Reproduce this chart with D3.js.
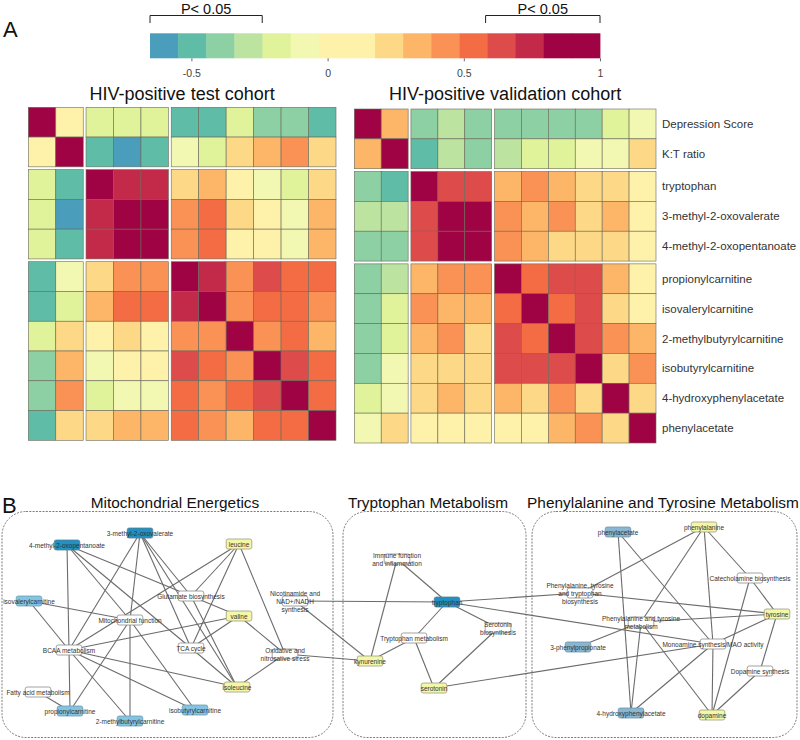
<!DOCTYPE html>
<html>
<head>
<meta charset="utf-8">
<script src="https://cdn.jsdelivr.net/npm/d3@7"></script>
<style>
  body { margin: 0; background: #fff; }
  svg { font-family: "Liberation Sans", Arial, sans-serif; }
</style>
</head>
<body>
<div class="container"></div>
<script>
// ---- data ----
const metabolites = [
  'Depression Score', 'K:T ratio', 'tryptophan', '3-methyl-2-oxovalerate', '4-methyl-2-oxopentanoate',
  'propionylcarnitine', 'isovalerylcarnitine', '2-methylbutyrylcarnitine', 'isobutyrylcarnitine',
  '4-hydroxyphenylacetate', 'phenylacetate'
];
const groupStarts = [2, 5];

const testCorr = [
  [1, 0.10, -0.19, -0.19, -0.19, -0.50, -0.50, -0.19, -0.39, -0.39, -0.50],
  [0.10, 1, -0.50, -0.60, -0.50, -0.08, -0.19, 0.23, 0.33, 0.43, 0.23],
  [-0.19, -0.50, 1, 0.75, 0.75, 0.23, 0.33, 0.10, -0.08, -0.19, 0.23],
  [-0.19, -0.60, 0.75, 1, 0.88, 0.43, 0.54, 0.23, 0.10, -0.08, 0.33],
  [-0.19, -0.50, 0.75, 0.88, 1, 0.43, 0.54, 0.10, 0.10, -0.08, 0.33],
  [-0.50, -0.08, 0.23, 0.43, 0.43, 1, 0.75, 0.43, 0.64, 0.54, 0.54],
  [-0.50, -0.19, 0.33, 0.54, 0.54, 0.75, 1, 0.43, 0.54, 0.54, 0.43],
  [-0.19, 0.23, 0.10, 0.23, 0.10, 0.43, 0.43, 1, 0.43, 0.54, 0.33],
  [-0.39, 0.33, -0.08, 0.10, 0.10, 0.64, 0.54, 0.43, 1, 0.64, 0.54],
  [-0.39, 0.43, -0.19, -0.08, -0.08, 0.54, 0.43, 0.54, 0.64, 1, 0.54],
  [-0.50, 0.23, 0.23, 0.33, 0.33, 0.54, 0.43, 0.33, 0.54, 0.54, 1]
];

const validationCorr = [
  [1, 0.33, -0.39, -0.29, -0.39, -0.39, -0.39, -0.39, -0.39, -0.19, -0.08],
  [0.33, 1, -0.50, -0.29, -0.39, -0.29, -0.19, -0.19, -0.08, -0.08, 0.23],
  [-0.39, -0.50, 1, 0.64, 0.64, 0.33, 0.43, 0.33, 0.23, 0.23, 0.10],
  [-0.29, -0.29, 0.64, 1, 0.88, 0.43, 0.33, 0.43, 0.23, 0.33, 0.10],
  [-0.39, -0.39, 0.64, 0.88, 1, 0.43, 0.33, 0.23, 0.23, 0.23, 0.10],
  [-0.39, -0.29, 0.33, 0.43, 0.43, 1, 0.54, 0.64, 0.64, 0.33, 0.10],
  [-0.39, -0.19, 0.43, 0.33, 0.33, 0.54, 1, 0.54, 0.64, 0.23, 0.10],
  [-0.39, -0.19, 0.33, 0.43, 0.23, 0.64, 0.54, 1, 0.64, 0.43, 0.33],
  [-0.39, -0.08, 0.23, 0.23, 0.23, 0.64, 0.64, 0.64, 1, 0.23, 0.43],
  [-0.19, -0.08, 0.23, 0.33, 0.23, 0.33, 0.23, 0.43, 0.23, 1, 0.23],
  [-0.08, 0.23, 0.10, 0.10, 0.10, 0.10, 0.10, 0.33, 0.43, 0.23, 1]
];

const legendDomain = [-0.652, 1];
const legendTicks = [-0.5, 0, 0.5, 1];
const pRanges = [[-0.652, -0.24], [0.58, 1]];
const binColors = [
  '#4a9dbb', '#5fbca6', '#8dd0a4', '#bce3a0', '#e0f29a', '#f2f8b1', '#fef1a9', '#fef1a9',
  '#fdd886', '#fdb567', '#f99254', '#f46c43', '#de4b4b', '#c32a4a', '#a00343', '#a00343'
];

const panelTitles = ['Mitochondrial Energetics', 'Tryptophan Metabolism', 'Phenylalanine and Tyrosine Metabolism'];

const netNodes = [
  { id: 'm3mov', label: ['3-methyl-2-oxovalerate'], kind: 'down' },
  { id: 'm4mop', label: ['4-methyl-2-oxopentanoate'], kind: 'down' },
  { id: 'leu', label: ['leucine'], kind: 'up' },
  { id: 'isoval', label: ['isovalerylcarnitine'], kind: 'carn' },
  { id: 'glut', label: ['Glutamate biosynthesis'], kind: 'path' },
  { id: 'val', label: ['valine'], kind: 'up' },
  { id: 'mitofn', label: ['Mitochondrial function'], kind: 'path' },
  { id: 'bcaa', label: ['BCAA metabolism'], kind: 'path' },
  { id: 'tca', label: ['TCA cycle'], kind: 'path' },
  { id: 'oxid', label: ['Oxidative and', 'nitrosative stress'], kind: 'path' },
  { id: 'nicot', label: ['Nicotinamide and', 'NAD+/NADH', 'synthesis'], kind: 'path' },
  { id: 'fatty', label: ['Fatty acid metabolism'], kind: 'path' },
  { id: 'ile', label: ['isoleucine'], kind: 'up' },
  { id: 'prop', label: ['propionylcarnitine'], kind: 'carn' },
  { id: 'mb2', label: ['2-methylbutyrylcarnitine'], kind: 'carn' },
  { id: 'isobut', label: ['isobutyrylcarnitine'], kind: 'carn' },
  { id: 'immune', label: ['Immune function', 'and inflammation'], kind: 'path' },
  { id: 'trp', label: ['tryptophan'], kind: 'down' },
  { id: 'serbio', label: ['Serotonin', 'biosynthesis'], kind: 'path' },
  { id: 'trpmet', label: ['Tryptophan metabolism'], kind: 'path' },
  { id: 'kyn', label: ['kynurenine'], kind: 'up' },
  { id: 'sero', label: ['serotonin'], kind: 'up' },
  { id: 'phac', label: ['phenylacetate'], kind: 'phen' },
  { id: 'phe', label: ['phenylalanine'], kind: 'up' },
  { id: 'catech', label: ['Catecholamine biosynthesis'], kind: 'path' },
  { id: 'pttb', label: ['Phenylalanine, tyrosine', 'and tryptophan', 'biosynthesis'], kind: 'path' },
  { id: 'tyr', label: ['tyrosine'], kind: 'up' },
  { id: 'ptm', label: ['Phenylalanine and tyrosine', 'metabolism'], kind: 'path' },
  { id: 'php', label: ['3-phenylpropionate'], kind: 'phen' },
  { id: 'mao', label: ['Monoamine synthesis/MAO activity'], kind: 'path' },
  { id: 'dasyn', label: ['Dopamine synthesis'], kind: 'path' },
  { id: 'hpa', label: ['4-hydroxyphenylacetate'], kind: 'phen' },
  { id: 'dopa', label: ['dopamine'], kind: 'up' }
];

// layout coordinates of the network (same units as the page)
const nodeLayout = {
  m3mov: [140, 533], m4mop: [67, 545], leu: [239, 544], isoval: [29, 601], glut: [191, 596],
  val: [239, 616], mitofn: [130, 620], bcaa: [69, 650], tca: [191, 648], oxid: [285, 654],
  nicot: [295, 601], fatty: [38, 692], ile: [237, 687], prop: [70, 711], mb2: [130, 721],
  isobut: [195, 710], immune: [397, 559], trp: [447, 602], serbio: [498, 628], trpmet: [414, 638],
  kyn: [370, 661], sero: [434, 688], phac: [618, 532], phe: [704, 527], catech: [750, 578],
  pttb: [580, 593], tyr: [777, 614], ptm: [641, 622], php: [578, 647], mao: [713, 644],
  dasyn: [760, 671], hpa: [631, 713], dopa: [712, 715]
};

const netEdges = [
  ['m3mov', 'bcaa'], ['m3mov', 'mitofn'], ['m3mov', 'glut'], ['m3mov', 'tca'], ['m3mov', 'ile'],
  ['m4mop', 'bcaa'], ['m4mop', 'mitofn'], ['m4mop', 'glut'], ['m4mop', 'tca'],
  ['isoval', 'bcaa'], ['isoval', 'mitofn'],
  ['leu', 'bcaa'], ['leu', 'glut'], ['leu', 'tca'], ['leu', 'oxid'],
  ['val', 'bcaa'], ['val', 'glut'], ['val', 'tca'], ['val', 'oxid'],
  ['mitofn', 'prop'], ['mitofn', 'mb2'], ['mitofn', 'isobut'],
  ['bcaa', 'prop'], ['bcaa', 'mb2'], ['bcaa', 'isobut'], ['bcaa', 'ile'],
  ['tca', 'ile'], ['glut', 'ile'], ['oxid', 'ile'], ['fatty', 'prop'],
  ['nicot', 'trp'], ['nicot', 'kyn'], ['oxid', 'kyn'],
  ['immune', 'trp'], ['immune', 'kyn'], ['trp', 'trpmet'], ['trpmet', 'kyn'], ['trpmet', 'sero'],
  ['trp', 'serbio'], ['serbio', 'sero'], ['trp', 'pttb'], ['trp', 'mao'], ['sero', 'mao'],
  ['phac', 'hpa'], ['phac', 'mao'], ['phe', 'pttb'], ['phe', 'ptm'], ['phe', 'mao'], ['phe', 'catech'],
  ['catech', 'tyr'], ['catech', 'dopa'], ['tyr', 'pttb'], ['tyr', 'ptm'], ['tyr', 'mao'], ['tyr', 'dasyn'],
  ['mao', 'dopa'], ['mao', 'hpa'], ['ptm', 'php'], ['ptm', 'hpa'], ['ptm', 'dopa'], ['dasyn', 'dopa']
];

const kindFill = { path: '#ffffff', up: '#f3f7a8', down: '#2190c2', carn: '#82c4e2', phen: '#89b6d0' };
const kindStroke = { path: '#8c8c8c', up: '#9c9c80', down: '#5a7f95', carn: '#6f9cb4', phen: '#6f94aa' };

// ---- chart ----
const renderChart = () => {
  const width = 800;
  const height = 740;
  const svg = d3.select('.container').append('svg').attr('width', width).attr('height', height);

  const color = d3.scaleQuantize().domain(legendDomain).range(binColors);

  // colour key
  const legendX = d3.scaleLinear().domain(legendDomain).range([150, 600]);
  const legendY = 33.3;
  const legendH = 25;
  const legend = svg.append('g').attr('class', 'legend');
  const bounds = [legendDomain[0], ...color.thresholds(), legendDomain[1]];
  legend
    .selectAll('rect')
    .data(binColors)
    .enter()
    .append('rect')
    .attr('x', (c, i) => legendX(bounds[i]))
    .attr('y', legendY)
    .attr('width', (c, i) => legendX(bounds[i + 1]) - legendX(bounds[i]) + 0.4)
    .attr('height', legendH)
    .attr('fill', c => c);

  const legendAxis = d3
    .axisBottom(legendX)
    .tickValues(legendTicks)
    .tickSize(3)
    .tickPadding(8)
    .tickFormat(d => String(d));
  const axisG = legend.append('g').attr('transform', `translate(0,${legendY + legendH})`).call(legendAxis);
  axisG.select('.domain').remove();
  axisG.selectAll('line').attr('stroke', '#666');
  axisG.selectAll('text').attr('font-size', 10.5).attr('fill', '#444').attr('font-family', '"Liberation Sans", Arial, sans-serif');

  // significance brackets
  const brackets = legend.append('g').attr('class', 'brackets');
  pRanges.forEach(r => {
    const x1 = legendX(r[0]);
    const x2 = legendX(r[1]);
    brackets
      .append('path')
      .attr('d', `M${x1},23V15.5H${x2}V23`)
      .attr('fill', 'none')
      .attr('stroke', '#222')
      .attr('stroke-width', 1);
    brackets
      .append('text')
      .attr('x', (x1 + x2) / 2)
      .attr('y', 13.5)
      .attr('text-anchor', 'middle')
      .attr('font-size', 14.5)
      .attr('fill', '#111')
      .text('P< 0.05');
  });

  svg.append('text').attr('x', 3).attr('y', 37).attr('font-size', 22).attr('fill', '#111').text('A');
  svg.append('text').attr('x', 2).attr('y', 513).attr('font-size', 22).attr('fill', '#111').text('B');

  // heatmaps
  const gap = 2.8;
  const n = metabolites.length;
  const gapsBefore = i => groupStarts.filter(s => i >= s).length;

  const renderHeatmap = (matrix, box, title) => {
    const g = svg.append('g').attr('class', 'heatmap');
    const xs = d3.scaleLinear().domain([0, n]).range([box.x, box.x + box.w - 2 * gap]);
    const ys = d3.scaleLinear().domain([0, n]).range([box.y, box.y + box.h - 2 * gap]);
    const cells = matrix.flatMap((row, r) => row.map((v, c) => ({ r, c, v })));
    g.selectAll('rect')
      .data(cells)
      .enter()
      .append('rect')
      .attr('x', d => xs(d.c) + gapsBefore(d.c) * gap)
      .attr('y', d => ys(d.r) + gapsBefore(d.r) * gap)
      .attr('width', xs(1) - xs(0))
      .attr('height', ys(1) - ys(0))
      .attr('fill', d => color(d.v))
      .attr('stroke', '#6a6a5a')
      .attr('stroke-width', 0.6);
    g.append('text')
      .attr('x', box.x + box.w / 2)
      .attr('y', 100)
      .attr('text-anchor', 'middle')
      .attr('font-size', 18)
      .attr('fill', '#111')
      .text(title);
    return { xs, ys };
  };

  renderHeatmap(testCorr, { x: 28.3, y: 107.3, w: 307.7, h: 333 }, 'HIV-positive test cohort');
  const right = renderHeatmap(validationCorr, { x: 354.3, y: 109, w: 301.7, h: 334 }, 'HIV-positive validation cohort');

  svg
    .append('g')
    .selectAll('text')
    .data(metabolites)
    .enter()
    .append('text')
    .attr('x', 662)
    .attr('y', (m, i) => right.ys(i + 0.5) + gapsBefore(i) * gap)
    .attr('dominant-baseline', 'central')
    .attr('font-size', 11.5)
    .attr('fill', '#333')
    .text(m => m);

  // network
  const netX = d3.scaleLinear().domain([0, 800]).range([0, 800]);
  const netY = d3.scaleLinear().domain([500, 740]).range([500, 740]);
  const panelBoxes = [
    { x: 2, w: 331, cx: 175 },
    { x: 343, w: 183, cx: 428 },
    { x: 532, w: 265, cx: 663 }
  ];
  const net = svg.append('g').attr('class', 'network');
  panelBoxes.forEach((p, i) => {
    net.append('rect')
      .attr('x', p.x)
      .attr('y', 511.5)
      .attr('width', p.w)
      .attr('height', 226)
      .attr('rx', 24)
      .attr('fill', 'none')
      .attr('stroke', '#444')
      .attr('stroke-width', 0.7)
      .attr('stroke-dasharray', '2,1.3');
    net.append('text')
      .attr('x', p.cx)
      .attr('y', 508)
      .attr('text-anchor', 'middle')
      .attr('font-size', 15.4)
      .attr('fill', '#111')
      .text(panelTitles[i]);
  });

  const pos = id => [netX(nodeLayout[id][0]), netY(nodeLayout[id][1])];

  net.append('g')
    .selectAll('line')
    .data(netEdges)
    .enter()
    .append('line')
    .attr('x1', e => pos(e[0])[0])
    .attr('y1', e => pos(e[0])[1])
    .attr('x2', e => pos(e[1])[0])
    .attr('y2', e => pos(e[1])[1])
    .attr('stroke', '#6b6b6b')
    .attr('stroke-width', 1.1);

  const node = net.append('g').selectAll('g').data(netNodes).enter().append('g')
    .attr('transform', d => `translate(${pos(d.id)[0]},${pos(d.id)[1]})`);

  node.append('rect')
    .attr('x', -12.8)
    .attr('y', -5)
    .attr('width', 25.6)
    .attr('height', 10)
    .attr('rx', 2)
    .attr('fill', d => kindFill[d.kind])
    .attr('stroke', d => kindStroke[d.kind])
    .attr('stroke-width', 0.8);

  node.append('text')
    .attr('text-anchor', 'middle')
    .attr('font-size', 6.5)
    .attr('fill', '#333')
    .selectAll('tspan')
    .data(d => d.label.map((t, i) => ({ t, i, k: d.label.length })))
    .enter()
    .append('tspan')
    .attr('x', 0)
    .attr('y', l => (l.i - (l.k - 1) / 2) * 8)
    .attr('dominant-baseline', 'central')
    .text(l => l.t);
};

renderChart();
</script>
</body>
</html>
